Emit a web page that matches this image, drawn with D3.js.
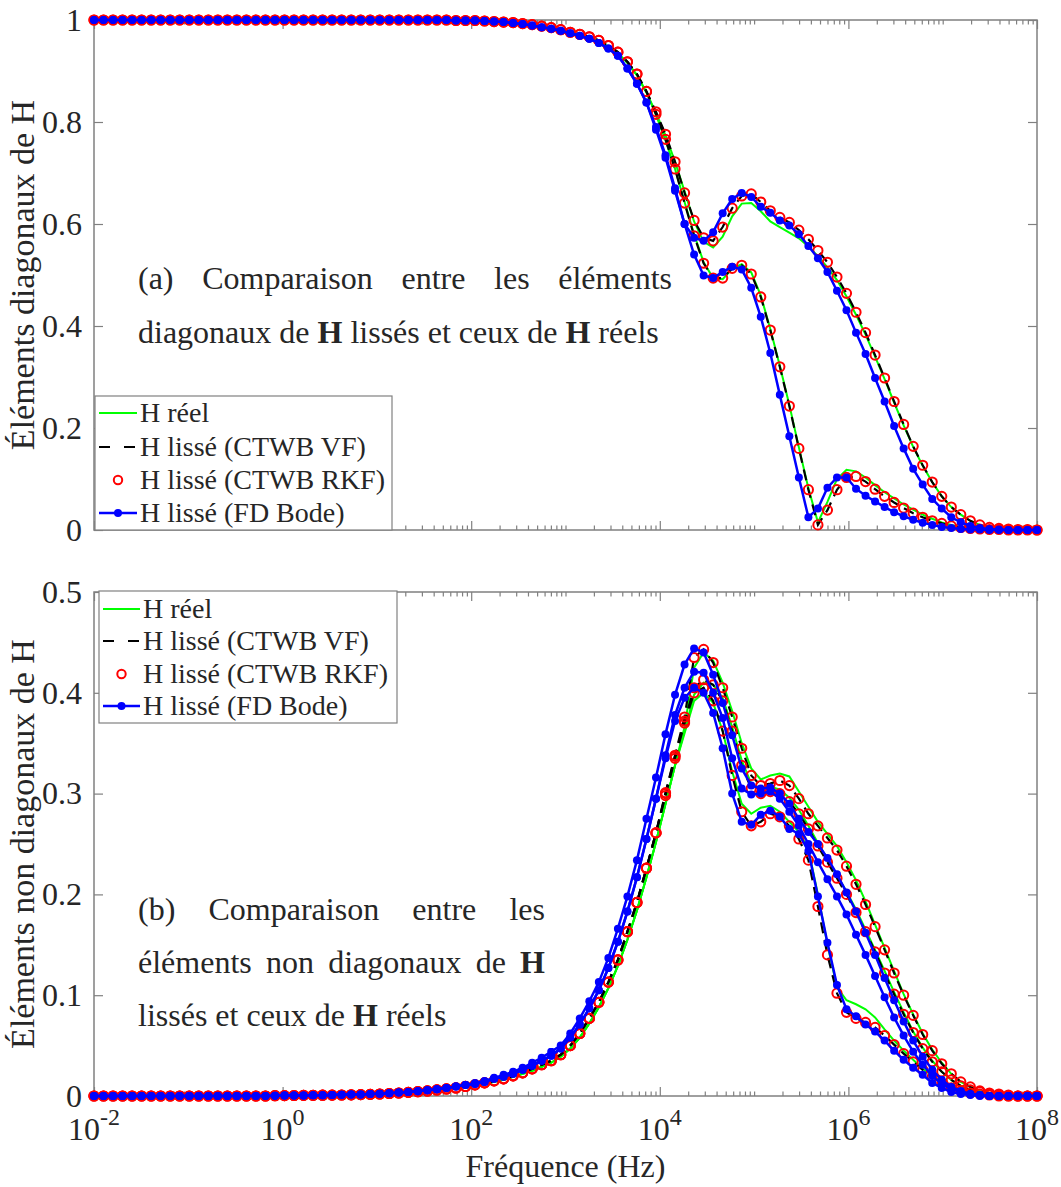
<!DOCTYPE html>
<html>
<head>
<meta charset="utf-8">
<script src="https://cdn.jsdelivr.net/npm/d3@7"></script>
<style>
  body { margin: 0; background: #fff; }
  text { font-family: "Liberation Serif", "Times New Roman", serif; fill: #262626; }
</style>
</head>
<body>
<div id="chart"></div>
<script>
// frequency grid : 100 log spaced points from 1e-2 to 1e8 Hz
var freq = d3.range(100).map(function(i) { return Math.pow(10, -2 + i * 10 / 99); });

// ---- diagonal elements (top panel) ----
var diag1Reel = [
  1,1,1,1,1,1,1,1,1,1,
  1,1,1,1,1,1,1,1,1,1,
  1,1,1,1,1,1,1,1,1,1,
  1,1,1,1,1,1,1,1,0.999,0.999,
  0.999,0.998,0.997,0.996,0.995,0.993,0.991,0.988,0.985,0.981,
  0.976,0.971,0.966,0.958,0.948,0.935,0.916,0.892,0.858,0.818,
  0.774,0.722,0.664,0.605,0.565,0.554,0.575,0.615,0.640,0.641,
  0.625,0.605,0.594,0.583,0.572,0.556,0.537,0.515,0.490,0.458,
  0.422,0.383,0.340,0.296,0.250,0.205,0.163,0.126,0.094,0.066,
  0.045,0.030,0.018,0.010,0.005,0.003,0.002,0.001,0.001,0
];
var diag2Reel = [
  1,1,1,1,1,1,1,1,1,1,
  1,1,1,1,1,1,1,1,1,1,
  1,1,1,1,1,1,1,1,1,1,
  1,1,1,1,1,1,1,1,0.999,0.999,
  0.999,0.998,0.997,0.996,0.995,0.993,0.991,0.988,0.985,0.981,
  0.976,0.971,0.966,0.958,0.948,0.935,0.916,0.892,0.858,0.814,
  0.764,0.708,0.643,0.580,0.525,0.494,0.492,0.512,0.521,0.505,
  0.460,0.394,0.322,0.245,0.162,0.082,0.015,0.055,0.100,0.118,
  0.115,0.103,0.088,0.074,0.062,0.050,0.040,0.030,0.022,0.015,
  0.010,0.006,0.004,0.002,0.001,0.001,0,0,0,0
];
var diag1Ctwb = [
  1,1,1,1,1,1,1,1,1,1,
  1,1,1,1,1,1,1,1,1,1,
  1,1,1,1,1,1,1,1,1,1,
  1,1,1,1,1,1,1,1,0.999,0.999,
  0.999,0.998,0.997,0.996,0.995,0.993,0.991,0.988,0.985,0.981,
  0.976,0.972,0.967,0.960,0.950,0.937,0.918,0.894,0.860,0.820,
  0.776,0.722,0.661,0.607,0.573,0.567,0.594,0.631,0.655,0.659,
  0.643,0.626,0.613,0.603,0.588,0.570,0.548,0.525,0.496,0.464,
  0.427,0.387,0.343,0.298,0.252,0.207,0.164,0.127,0.094,0.066,
  0.045,0.030,0.018,0.010,0.005,0.003,0.002,0.001,0.001,0
];
var diag2Ctwb = [
  1,1,1,1,1,1,1,1,1,1,
  1,1,1,1,1,1,1,1,1,1,
  1,1,1,1,1,1,1,1,1,1,
  1,1,1,1,1,1,1,1,0.999,0.999,
  0.999,0.998,0.997,0.996,0.995,0.993,0.991,0.988,0.985,0.981,
  0.976,0.972,0.967,0.960,0.950,0.937,0.918,0.894,0.860,0.815,
  0.766,0.708,0.641,0.577,0.523,0.494,0.494,0.513,0.519,0.502,
  0.457,0.392,0.320,0.243,0.160,0.079,0.010,0.039,0.079,0.103,
  0.105,0.095,0.080,0.066,0.054,0.043,0.033,0.025,0.018,0.013,
  0.008,0.005,0.003,0.002,0.001,0.001,0,0,0,0
];
var diag1Fd = [
  1,1,1,1,1,1,1,1,1,1,
  1,1,1,1,1,1,1,1,1,1,
  1,1,1,1,1,1,1,1,1,1,
  1,1,1,1,1,1,1,1,0.999,0.999,
  0.999,0.998,0.997,0.996,0.994,0.992,0.989,0.986,0.983,0.979,
  0.974,0.969,0.963,0.955,0.944,0.930,0.905,0.875,0.838,0.790,
  0.735,0.670,0.600,0.573,0.567,0.584,0.621,0.649,0.661,0.653,
  0.634,0.622,0.607,0.597,0.580,0.557,0.533,0.506,0.469,0.431,
  0.387,0.345,0.298,0.252,0.204,0.160,0.120,0.089,0.061,0.042,
  0.025,0.015,0.008,0.004,0.002,0.001,0,0,0,0
];
var diag2Fd = [
  1,1,1,1,1,1,1,1,1,1,
  1,1,1,1,1,1,1,1,1,1,
  1,1,1,1,1,1,1,1,1,1,
  1,1,1,1,1,1,1,1,0.999,0.999,
  0.999,0.998,0.997,0.996,0.994,0.992,0.989,0.986,0.983,0.979,
  0.974,0.969,0.963,0.955,0.944,0.930,0.905,0.875,0.838,0.785,
  0.730,0.665,0.600,0.540,0.499,0.494,0.506,0.516,0.511,0.475,
  0.418,0.347,0.265,0.184,0.103,0.025,0.042,0.083,0.103,0.103,
  0.081,0.067,0.056,0.045,0.035,0.027,0.020,0.014,0.010,0.006,
  0.004,0.002,0.001,0.001,0,0,0,0,0,0
];

// ---- off diagonal elements (bottom panel) ----
var offReel1 = [
  0,0,0,0,0,0,0,0,0,0,
  0,0,0,0,0,0,0,0,0,0.0003,
  0.0004,0.0005,0.0006,0.0007,0.0008,0.0009,0.001,0.0012,0.0014,0.0016,
  0.002,0.0025,0.003,0.0036,0.0043,0.005,0.006,0.007,0.008,0.0095,
  0.010,0.012,0.014,0.016,0.019,0.022,0.025,0.029,0.033,0.039,
  0.047,0.058,0.072,0.088,0.107,0.129,0.155,0.184,0.217,0.252,
  0.290,0.328,0.366,0.425,0.440,0.432,0.410,0.382,0.350,0.325,
  0.314,0.318,0.320,0.317,0.302,0.287,0.272,0.260,0.248,0.232,
  0.214,0.193,0.170,0.147,0.124,0.101,0.081,0.062,0.046,0.033,
  0.022,0.014,0.009,0.005,0.003,0.002,0.001,0,0,0
];
var offReel2 = [
  0,0,0,0,0,0,0,0,0,0,
  0,0,0,0,0,0,0,0,0,0.0003,
  0.0004,0.0005,0.0006,0.0007,0.0008,0.0009,0.001,0.0012,0.0014,0.0016,
  0.002,0.0025,0.003,0.0036,0.0043,0.005,0.006,0.007,0.008,0.0095,
  0.010,0.012,0.014,0.016,0.019,0.022,0.025,0.029,0.033,0.039,
  0.047,0.058,0.072,0.088,0.107,0.129,0.155,0.184,0.217,0.252,
  0.290,0.328,0.360,0.392,0.400,0.390,0.362,0.322,0.290,0.280,
  0.286,0.288,0.282,0.272,0.262,0.245,0.200,0.150,0.108,0.095,
  0.091,0.086,0.078,0.066,0.055,0.045,0.036,0.027,0.020,0.014,
  0.009,0.005,0.003,0.002,0.001,0,0,0,0,0
];
var offReel3 = [
  0,0,0,0,0,0,0,0,0,0,
  0,0,0,0,0,0,0,0,0,0.0003,
  0.0004,0.0005,0.0006,0.0007,0.0008,0.0009,0.001,0.0012,0.0014,0.0016,
  0.002,0.0025,0.003,0.0036,0.0043,0.005,0.006,0.007,0.008,0.0095,
  0.010,0.012,0.014,0.016,0.019,0.022,0.025,0.029,0.033,0.039,
  0.047,0.058,0.072,0.088,0.107,0.129,0.155,0.184,0.217,0.252,
  0.290,0.328,0.362,0.398,0.410,0.408,0.395,0.366,0.333,0.310,
  0.305,0.307,0.304,0.296,0.284,0.268,0.251,0.235,0.219,0.203,
  0.185,0.165,0.145,0.124,0.103,0.083,0.064,0.048,0.035,0.024,
  0.016,0.010,0.006,0.004,0.002,0.001,0,0,0,0
];
var offCtwb1 = [
  0,0,0,0,0,0,0,0,0,0,
  0,0,0,0,0,0,0,0,0,0.0003,
  0.0004,0.0005,0.0006,0.0007,0.0008,0.0009,0.001,0.0012,0.0014,0.0016,
  0.002,0.0025,0.003,0.0036,0.0043,0.005,0.006,0.007,0.008,0.0095,
  0.011,0.013,0.015,0.017,0.020,0.023,0.027,0.031,0.035,0.041,
  0.050,0.062,0.077,0.093,0.113,0.135,0.163,0.192,0.226,0.261,
  0.301,0.338,0.376,0.435,0.443,0.430,0.405,0.376,0.345,0.318,
  0.308,0.310,0.313,0.308,0.295,0.280,0.268,0.256,0.244,0.228,
  0.210,0.190,0.168,0.145,0.122,0.100,0.080,0.061,0.045,0.032,
  0.022,0.014,0.009,0.005,0.003,0.002,0.001,0,0,0
];
var offCtwb2 = [
  0,0,0,0,0,0,0,0,0,0,
  0,0,0,0,0,0,0,0,0,0.0003,
  0.0004,0.0005,0.0006,0.0007,0.0008,0.0009,0.001,0.0012,0.0014,0.0016,
  0.002,0.0025,0.003,0.0036,0.0043,0.005,0.006,0.007,0.008,0.0095,
  0.011,0.013,0.015,0.017,0.020,0.023,0.027,0.031,0.035,0.041,
  0.050,0.062,0.077,0.093,0.113,0.135,0.163,0.192,0.226,0.261,
  0.298,0.335,0.370,0.400,0.405,0.392,0.362,0.318,0.282,0.268,
  0.272,0.280,0.277,0.268,0.255,0.234,0.188,0.140,0.102,0.083,
  0.077,0.073,0.068,0.060,0.051,0.042,0.034,0.026,0.019,0.013,
  0.008,0.005,0.003,0.002,0.001,0,0,0,0,0
];
var offCtwb3 = [
  0,0,0,0,0,0,0,0,0,0,
  0,0,0,0,0,0,0,0,0,0.0003,
  0.0004,0.0005,0.0006,0.0007,0.0008,0.0009,0.001,0.0012,0.0014,0.0016,
  0.002,0.0025,0.003,0.0036,0.0043,0.005,0.006,0.007,0.008,0.0095,
  0.011,0.013,0.015,0.017,0.020,0.023,0.027,0.031,0.035,0.041,
  0.050,0.062,0.077,0.093,0.113,0.135,0.163,0.192,0.226,0.261,
  0.300,0.337,0.372,0.405,0.413,0.408,0.392,0.362,0.328,0.305,
  0.300,0.302,0.300,0.292,0.280,0.265,0.248,0.232,0.216,0.200,
  0.182,0.163,0.143,0.122,0.101,0.081,0.063,0.047,0.034,0.024,
  0.016,0.010,0.006,0.004,0.002,0.001,0,0,0,0
];
var offFd1 = [
  0,0,0,0,0,0,0,0,0,0,
  0,0,0,0,0,0,0,0,0,0.0003,
  0.0004,0.0005,0.0006,0.0007,0.0008,0.001,0.0012,0.0014,0.0016,0.0019,
  0.0023,0.0028,0.0034,0.004,0.0048,0.0057,0.0068,0.008,0.0094,0.011,
  0.013,0.015,0.018,0.021,0.024,0.028,0.033,0.038,0.044,0.050,
  0.062,0.077,0.094,0.113,0.137,0.166,0.198,0.234,0.275,0.316,
  0.359,0.398,0.428,0.444,0.440,0.418,0.390,0.358,0.325,0.308,
  0.305,0.306,0.300,0.290,0.275,0.262,0.250,0.236,0.220,0.202,
  0.183,0.162,0.140,0.117,0.095,0.074,0.055,0.039,0.026,0.016,
  0.009,0.005,0.002,0.001,0,0,0,0,0,0
];
var offFd2 = [
  0,0,0,0,0,0,0,0,0,0,
  0,0,0,0,0,0,0,0,0,0.0003,
  0.0004,0.0005,0.0006,0.0007,0.0008,0.001,0.0012,0.0014,0.0016,0.0019,
  0.0023,0.0028,0.0034,0.004,0.0048,0.0057,0.0068,0.008,0.0094,0.011,
  0.012,0.014,0.017,0.019,0.022,0.026,0.030,0.035,0.040,0.047,
  0.058,0.071,0.087,0.105,0.127,0.153,0.183,0.217,0.255,0.295,
  0.335,0.372,0.395,0.405,0.400,0.380,0.345,0.300,0.272,0.269,
  0.279,0.283,0.277,0.265,0.260,0.243,0.198,0.152,0.110,0.086,
  0.079,0.071,0.064,0.055,0.045,0.036,0.028,0.021,0.013,0.008,
  0.004,0.002,0.001,0,0,0,0,0,0,0
];
var offFd3 = [
  0,0,0,0,0,0,0,0,0,0,
  0,0,0,0,0,0,0,0,0,0.0003,
  0.0004,0.0005,0.0006,0.0007,0.0008,0.001,0.0012,0.0014,0.0016,0.0019,
  0.0023,0.0028,0.0034,0.004,0.0048,0.0057,0.0068,0.008,0.0094,0.011,
  0.012,0.014,0.017,0.019,0.022,0.026,0.030,0.035,0.040,0.047,
  0.058,0.071,0.087,0.105,0.127,0.153,0.183,0.217,0.255,0.295,
  0.338,0.378,0.405,0.421,0.420,0.400,0.375,0.335,0.305,0.299,
  0.300,0.302,0.295,0.282,0.268,0.250,0.232,0.215,0.198,0.180,
  0.160,0.140,0.119,0.098,0.078,0.060,0.044,0.031,0.020,0.012,
  0.007,0.004,0.002,0.001,0,0,0,0,0,0
];

var legendNames = ['H réel', 'H lissé (CTWB VF)', 'H lissé (CTWB RKF)', 'H lissé (FD Bode)'];
var topTicks = [0, 0.2, 0.4, 0.6, 0.8, 1];
var bottomTicks = [0, 0.1, 0.2, 0.3, 0.4, 0.5];
var xLabelExp = [-2, 0, 2, 4, 6, 8];

// sizes
var svgWidth = 1061;
var svgHeight = 1187;
var plotLeft = 94, plotRight = 1037;
var axisColor = '#808080';
var green = '#00ff00', red = '#ff0000', blue = '#0000ff';

var svg = d3.select('#chart').append('svg')
  .attr('width', svgWidth)
  .attr('height', svgHeight);

var xScale = d3.scaleLog().domain([1e-2, 1e8]).range([plotLeft, plotRight]);

// major ticks every 2 decades, minor ticks for all others
var majorX = xLabelExp.map(function(e) { return Math.pow(10, e); });
var minorX = [];
for (var k = -2; k < 8; k++) {
  for (var m = 1; m < 10; m++) {
    if (m === 1 && k % 2 === 0) continue;
    minorX.push(m * Math.pow(10, k));
  }
}

function cleanAxis(g) {
  g.select('.domain').remove();
  g.selectAll('.tick line').attr('stroke', axisColor).attr('stroke-width', 1.2);
}

function drawPanel(p) {
  var yScale = d3.scaleLinear().domain([0, p.yMax]).range([p.bottom, p.top]);
  var g = svg.append('g');

  // frame
  g.append('rect')
    .attr('x', plotLeft).attr('y', p.top)
    .attr('width', plotRight - plotLeft).attr('height', p.bottom - p.top)
    .attr('fill', 'none').attr('stroke', axisColor).attr('stroke-width', 1.5);

  // x ticks (inside, top and bottom)
  [[d3.axisBottom, p.bottom], [d3.axisTop, p.top]].forEach(function(a) {
    g.append('g').attr('transform', 'translate(0,' + a[1] + ')')
      .call(a[0](xScale).tickValues(majorX).tickSize(-9).tickFormat(''))
      .call(cleanAxis);
    g.append('g').attr('transform', 'translate(0,' + a[1] + ')')
      .call(a[0](xScale).tickValues(minorX).tickSize(-4.5).tickFormat(''))
      .call(cleanAxis);
  });

  // y ticks
  g.append('g').attr('transform', 'translate(' + plotLeft + ',0)')
    .call(d3.axisLeft(yScale).tickValues(p.ticks).tickSize(-9).tickPadding(12)
      .tickFormat(d3.format('~g')))
    .call(cleanAxis)
    .call(function(ax) {
      ax.selectAll('.tick text').attr('font-size', 32).attr('fill', '#262626')
        .attr('font-family', '"Liberation Serif", serif');
    });
  g.append('g').attr('transform', 'translate(' + plotRight + ',0)')
    .call(d3.axisRight(yScale).tickValues(p.ticks).tickSize(-9).tickFormat(''))
    .call(cleanAxis);

  // y axis title
  g.append('text')
    .attr('transform', 'translate(34,' + ((p.top + p.bottom) / 2) + ') rotate(-90)')
    .attr('text-anchor', 'middle')
    .attr('font-size', 34)
    .text(p.yTitle);

  var line = d3.line()
    .x(function(d, i) { return xScale(freq[i]); })
    .y(function(d) { return yScale(d); });

  // H réel
  p.reel.forEach(function(arr) {
    g.append('path').datum(arr).attr('d', line)
      .attr('fill', 'none').attr('stroke', green).attr('stroke-width', 2);
  });
  // CTWB VF
  p.ctwb.forEach(function(arr) {
    g.append('path').datum(arr).attr('d', line)
      .attr('fill', 'none').attr('stroke', '#000').attr('stroke-width', 2.2)
      .attr('stroke-dasharray', '11,7');
  });
  // CTWB RKF
  p.ctwb.forEach(function(arr) {
    g.append('g').selectAll('circle').data(arr).enter().append('circle')
      .attr('cx', function(d, i) { return xScale(freq[i]); })
      .attr('cy', function(d) { return yScale(d); })
      .attr('r', 4.6)
      .attr('fill', 'none').attr('stroke', red).attr('stroke-width', 2);
  });
  // FD Bode
  p.fd.forEach(function(arr) {
    g.append('path').datum(arr).attr('d', line)
      .attr('fill', 'none').attr('stroke', blue).attr('stroke-width', 2.5);
    g.append('g').selectAll('circle').data(arr).enter().append('circle')
      .attr('cx', function(d, i) { return xScale(freq[i]); })
      .attr('cy', function(d) { return yScale(d); })
      .attr('r', 4)
      .attr('fill', blue);
  });

  // annotation with white background
  var note = p.note;
  g.append('rect')
    .attr('x', note.box[0]).attr('y', note.box[1])
    .attr('width', note.box[2]).attr('height', note.box[3])
    .attr('fill', '#fff');
  note.lines.forEach(function(ln) {
    var words = ln.words.map(function(w) {
      var t = g.append('text').attr('font-size', 32).attr('y', ln.y).text(w.replace(/\*/g, ''));
      if (w.indexOf('*') >= 0) t.attr('font-weight', 'bold');
      return t;
    });
    var widths = words.map(function(t) { return t.node().getComputedTextLength(); });
    var total = d3.sum(widths);
    var gap = ln.justify ? (note.x1 - note.x0 - total) / (words.length - 1) : 8;
    var cx = note.x0;
    words.forEach(function(t, i) {
      t.attr('x', cx);
      cx += widths[i] + gap;
    });
  });

  // legend
  var lg = p.legend;
  g.append('rect')
    .attr('x', lg.box[0]).attr('y', lg.box[1])
    .attr('width', lg.box[2]).attr('height', lg.box[3])
    .attr('fill', '#fff').attr('stroke', axisColor).attr('stroke-width', 1.2);
  legendNames.forEach(function(name, i) {
    var yy = lg.rows[i];
    var x0 = lg.sample[0], x1 = lg.sample[1], xm = (x0 + x1) / 2;
    if (i === 0) {
      g.append('line').attr('x1', x0).attr('x2', x1).attr('y1', yy).attr('y2', yy)
        .attr('stroke', green).attr('stroke-width', 2);
    } else if (i === 1) {
      g.append('line').attr('x1', x0).attr('x2', x1).attr('y1', yy).attr('y2', yy)
        .attr('stroke', '#000').attr('stroke-width', 2.2).attr('stroke-dasharray', '11,14');
    } else if (i === 2) {
      g.append('circle').attr('cx', xm).attr('cy', yy).attr('r', 4.2)
        .attr('fill', 'none').attr('stroke', red).attr('stroke-width', 2);
    } else {
      g.append('line').attr('x1', x0).attr('x2', x1).attr('y1', yy).attr('y2', yy)
        .attr('stroke', blue).attr('stroke-width', 2.5);
      g.append('circle').attr('cx', xm).attr('cy', yy).attr('r', 4).attr('fill', blue);
    }
    g.append('text').attr('x', lg.textX).attr('y', yy + 9)
      .attr('font-size', 28).text(name);
  });

  return yScale;
}

drawPanel({
  top: 20, bottom: 530, yMax: 1, ticks: topTicks,
  yTitle: 'Éléments diagonaux de H',
  reel: [diag1Reel, diag2Reel],
  ctwb: [diag1Ctwb, diag2Ctwb],
  fd: [diag1Fd, diag2Fd],
  note: {
    box: [128, 244, 560, 118], x0: 138, x1: 672,
    lines: [
      { y: 289, justify: true, words: ['(a)', 'Comparaison', 'entre', 'les', 'éléments'] },
      { y: 343, justify: false, words: ['diagonaux', 'de', '*H*', 'lissés', 'et', 'ceux', 'de', '*H*', 'réels'] }
    ]
  },
  legend: { box: [95, 396, 297, 134], rows: [413, 447, 480, 513], sample: [99, 137], textX: 140 }
});

drawPanel({
  top: 592, bottom: 1096, yMax: 0.5, ticks: bottomTicks,
  yTitle: 'Éléments non diagonaux de H',
  reel: [offReel1, offReel2, offReel3],
  ctwb: [offCtwb1, offCtwb2, offCtwb3],
  fd: [offFd1, offFd2, offFd3],
  note: {
    box: [128, 868, 427, 180], x0: 138, x1: 545,
    lines: [
      { y: 920, justify: true, words: ['(b)', 'Comparaison', 'entre', 'les'] },
      { y: 973, justify: true, words: ['éléments', 'non', 'diagonaux', 'de', '*H*'] },
      { y: 1026, justify: false, words: ['lissés', 'et', 'ceux', 'de', '*H*', 'réels'] }
    ]
  },
  legend: { box: [99, 591, 298, 132], rows: [609, 641, 674, 706], sample: [103, 140], textX: 143 }
});

// x tick labels (bottom panel only) and x title
var xLabels = svg.append('g');
xLabelExp.forEach(function(e) {
  var t = xLabels.append('text')
    .attr('x', xScale(Math.pow(10, e)))
    .attr('y', 1140)
    .attr('text-anchor', 'middle')
    .attr('font-size', 32);
  t.append('tspan').text('10');
  t.append('tspan').attr('dy', -15).attr('font-size', 24).text(String(e));
});
svg.append('text')
  .attr('x', (plotLeft + plotRight) / 2)
  .attr('y', 1177)
  .attr('text-anchor', 'middle')
  .attr('font-size', 32)
  .text('Fréquence (Hz)');
</script>
</body>
</html>
